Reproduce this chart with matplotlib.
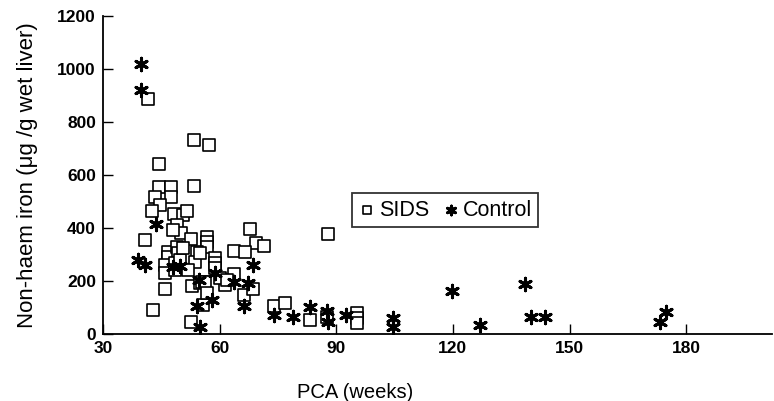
import matplotlib
matplotlib.use("Agg")
import matplotlib.pyplot as plt

# SIDS cases: post-conceptional age (weeks) vs non-haem iron (ug/g wet liver)
sids_pca = [41.5, 53.5, 57.3, 44.5, 44.5, 47.6, 53.5, 43.4, 47.6, 44.7,
            42.5, 48.3, 50.7, 51.5, 49.0, 50.0, 40.8, 52.6, 67.9, 69.4,
            71.5, 63.8, 66.6, 56.7, 56.7, 56.7, 46.8, 46.8, 49.0, 49.4,
            54.1, 46.0, 46.0, 48.6, 48.6, 49.8, 53.7, 55.0, 58.9, 58.9,
            58.9, 46.0, 52.9, 55.0, 43.0, 52.6, 63.6, 61.4, 66.2, 68.7,
            73.9, 76.9, 55.8, 55.4, 56.3, 56.7, 60.2, 61.9, 87.8, 83.3,
            87.6, 95.4, 95.4, 95.4, 50.6, 51.9, 48.0]
sids_iron = [884, 733, 712, 640, 555, 555, 559, 517, 517, 486,
             464, 451, 448, 464, 410, 381, 354, 357, 394, 343,
             333, 314, 310, 365, 346, 328, 310, 291, 329, 304,
             310, 260, 229, 266, 241, 279, 272, 305, 285, 266,
             247, 168, 181, 191, 90, 44, 226, 185, 147, 168,
             104, 118, 109, 197, 197, 153, 210, 203, 377, 53,
             63, 79, 60, 41, 324, 241, 392]

# controls
ctrl_pca = [39.7, 39.7, 43.7, 39.1, 40.8, 48.1, 54.6, 54.1, 55.0, 58.0,
            63.6, 67.4, 68.7, 66.2, 73.9, 79.0, 83.3, 87.6, 87.8, 92.4,
            104.6, 104.6, 119.8, 127.0, 138.5, 140.2, 143.6, 174.8, 173.3, 58.9,
            49.8]
ctrl_iron = [1019, 921, 414, 279, 260, 253, 203, 105, 27, 128,
             197, 193, 260, 105, 70, 65, 101, 87, 46, 72,
             59, 27, 163, 34, 188, 65, 65, 84, 46, 229,
             256]

x_ticks = [30, 60, 90, 120, 150, 180]
y_ticks = [0, 200, 400, 600, 800, 1000, 1200]

plt.rcParams["font.family"] = ["Liberation Sans", "DejaVu Sans"]

fig = plt.figure(figsize=(7.74, 4.01), dpi=100)
ax = fig.add_axes([0.133, 0.167, 0.864, 0.794])

ax.scatter(sids_pca, sids_iron, marker="s", s=82, facecolors="white",
           edgecolors="black", linewidths=1.2, label="SIDS", zorder=3)
ax.scatter(ctrl_pca, ctrl_iron, marker=(6, 2, 0), s=80, color="black",
           linewidths=2.2, label="Control", zorder=4)

ax.set_xlim(30, 202)
ax.set_ylim(0, 1200)
ax.set_xticks(x_ticks)
ax.set_yticks(y_ticks)
ax.tick_params(direction="in", length=7, width=1, labelsize=12.5, pad=5)
for lab in ax.get_xticklabels() + ax.get_yticklabels():
    lab.set_fontweight("bold")
for s in ("top", "right"):
    ax.spines[s].set_visible(False)
for s in ("left", "bottom"):
    ax.spines[s].set_linewidth(1.3)

ax.set_ylabel("Non-haem iron (\u03bcg /g wet liver)", fontsize=16)
ax.yaxis.set_label_coords(-0.097, 0.5)
ax.set_xlabel("PCA (weeks)", fontsize=14.5)
ax.xaxis.set_label_coords((355 - 103) / 669, -0.155)

leg = ax.legend(ncol=2, loc="upper left", bbox_to_anchor=(0.455, 0.518),
                bbox_transform=fig.transFigure, borderaxespad=0,
                frameon=True, fancybox=False, edgecolor="black",
                prop={"size": 15.5}, handletextpad=0.15,
                columnspacing=0.6, handlelength=0.8, borderpad=0.3,
                markerscale=0.7)
leg.get_frame().set_linewidth(1.3)

fig.savefig("out.png", dpi=100)
